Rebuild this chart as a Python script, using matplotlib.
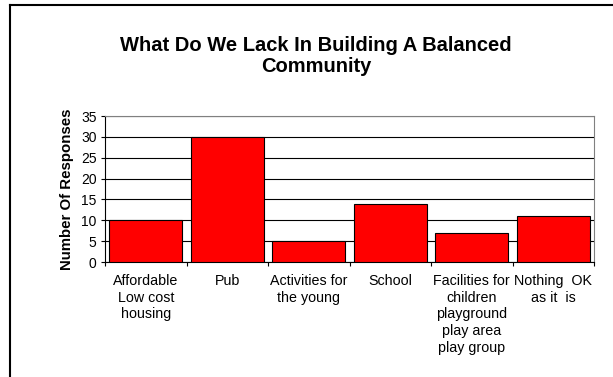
import matplotlib
matplotlib.use("Agg")
import matplotlib.pyplot as plt
import numpy as np

plt.rcParams['font.family'] = ['Liberation Sans', 'DejaVu Sans']

# survey answers and counts
categories = ["Affordable\nLow cost\nhousing", "Pub", "Activities for\nthe young",
              "School", "Facilities for\nchildren\nplayground\nplay area\nplay group",
              "Nothing  OK\nas it  is"]
responses = [10, 30, 5, 14, 7, 11]
y_ticks = [0, 5, 10, 15, 20, 25, 30, 35]

fig = plt.figure(figsize=(6.13, 3.77), dpi=100)
ax = fig.add_axes([105 / 613, 1 - 262 / 377, (594 - 105) / 613, (262 - 116) / 377])

x = np.arange(len(categories))
ax.bar(x, responses, width=0.9, color="#ff0000", edgecolor="black", linewidth=0.8, zorder=3)

ax.set_xlim(-0.5, len(categories) - 0.5)
ax.set_ylim(0, 35)
ax.set_yticks(y_ticks)
ax.tick_params(axis="y", direction="out", length=3, width=0.8, labelsize=10, pad=3)
ax.yaxis.grid(True, color="black", linewidth=0.8, zorder=0)

# category ticks sit between the bars, labels are centred under each bar
ax.set_xticks(np.arange(len(categories) + 1) - 0.5)
ax.set_xticklabels([])
ax.tick_params(axis="x", direction="out", length=3, width=0.8)
for xi, lab in zip(x, categories):
    ax.text(xi, -2.9, lab, ha="center", va="top", fontsize=10.3, linespacing=1.24)

for side in ["top", "right"]:
    ax.spines[side].set_color("#808080")
for side in ["left", "bottom"]:
    ax.spines[side].set_color("black")
    ax.spines[side].set_linewidth(0.8)

ax.set_ylabel("Number Of Responses", fontsize=10.8, fontweight="bold", labelpad=5)

fig.text(316 / 613, 1 - 56 / 377, "What Do We Lack In Building A Balanced\nCommunity",
         ha="center", va="center", fontsize=14.5, fontweight="bold", linespacing=1.08)

# outer frame, left and top edges
fig.add_artist(plt.Line2D([10 / 613, 10 / 613], [0, 1 - 5 / 377], color="black", linewidth=1.5))
fig.add_artist(plt.Line2D([10 / 613, 1], [1 - 5 / 377, 1 - 5 / 377], color="black", linewidth=1.5))

fig.savefig("out.png", dpi=100)
